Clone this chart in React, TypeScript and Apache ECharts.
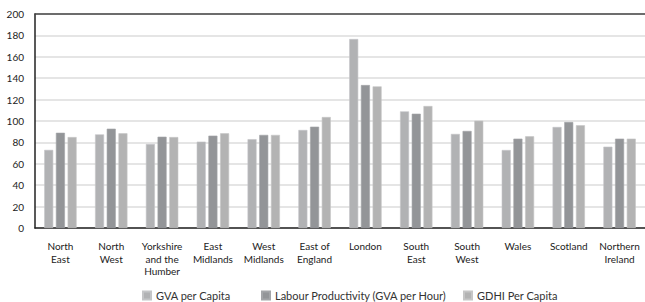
import React, { useEffect, useRef } from "react";
import * as echarts from "echarts";

const categories = [
  "North\nEast",
  "North\nWest",
  "Yorkshire\nand the\nHumber",
  "East\nMidlands",
  "West\nMidlands",
  "East of\nEngland",
  "London",
  "South\nEast",
  "South\nWest",
  "Wales",
  "Scotland",
  "Northern\nIreland",
];

const gvaPerCapita = [73, 87.5, 78.5, 80.7, 83, 91.6, 176.6, 109, 87.9, 72.9, 94.4, 76];
const labourProductivity = [89, 92.8, 85.3, 86.3, 87, 94.7, 133.6, 106.8, 90.7, 83.5, 99, 83.5];
const gdhiPerCapita = [85, 88.5, 85, 88.5, 87, 103.7, 132.4, 114, 100.3, 85.7, 96, 83.5];

const yTicks = { min: 0, max: 200, interval: 20 };

const FONT = "Lato, 'Open Sans', sans-serif";

export default function App() {
  const ref = useRef<HTMLDivElement>(null);
  useEffect(() => {
    document.body.style.margin = "0";
    if (!ref.current) return;
    const chart = echarts.init(ref.current, null, { renderer: "svg" });
    const legendBase = {
      top: 290,
      itemWidth: 8,
      itemHeight: 8,
      icon: "rect",
      itemGap: 4,
      textStyle: { fontFamily: FONT, fontSize: 11, color: "#333", padding: [0, 0, 0, 0] },
      padding: 0,
    };
    chart.setOption({
      animation: false,
      textStyle: { fontFamily: FONT },
      grid: { left: 35, right: 0, top: 14, bottom: 74, containLabel: false },
      legend: [
        { ...legendBase, left: 142, data: ["GVA per Capita"] },
        { ...legendBase, left: 261, data: ["Labour Productivity (GVA per Hour)"] },
        { ...legendBase, left: 463, data: ["GDHI Per Capita"] },
      ],
      xAxis: [
        {
          type: "category",
          data: categories,
          axisLine: { show: true, lineStyle: { color: "#222", width: 1.5 } },
          axisTick: { show: false },
          axisLabel: {
            interval: 0,
            fontSize: 10,
            color: "#222",
            fontFamily: FONT,
            margin: 12,
            lineHeight: 12.5,
            verticalAlign: "top",
          },
        },
        {
          type: "category",
          position: "top",
          data: categories,
          axisLine: { show: true, lineStyle: { color: "#444", width: 1.5 } },
          axisTick: { show: false },
          axisLabel: { show: false },
        },
      ],
      yAxis: {
        type: "value",
        min: yTicks.min,
        max: yTicks.max,
        interval: yTicks.interval,
        axisLine: { show: true, lineStyle: { color: "#222", width: 1.5 } },
        axisTick: { show: false },
        axisLabel: { fontSize: 10, color: "#222", fontFamily: FONT, margin: 11 },
        splitLine: { lineStyle: { color: "#dcdcdc", width: 1.5 } },
      },
      series: [
        {
          name: "GVA per Capita",
          type: "bar",
          data: gvaPerCapita,
          barWidth: 9,
          barGap: "30%",
          itemStyle: { color: "#b1b2b4", borderColor: "#c4c5c7", borderWidth: 0.6 },
        },
        {
          name: "Labour Productivity (GVA per Hour)",
          type: "bar",
          data: labourProductivity,
          barWidth: 9,
          barGap: "30%",
          itemStyle: { color: "#939598", borderColor: "#a3a5a8", borderWidth: 0.6 },
        },
        {
          name: "GDHI Per Capita",
          type: "bar",
          data: gdhiPerCapita,
          barWidth: 9,
          barGap: "30%",
          itemStyle: { color: "#b3b3b3", borderColor: "#c6c6c6", borderWidth: 0.6 },
        },
      ],
    });
    return () => chart.dispose();
  }, []);
  return <div ref={ref} style={{ width: 645, height: 302 }} />;
}
